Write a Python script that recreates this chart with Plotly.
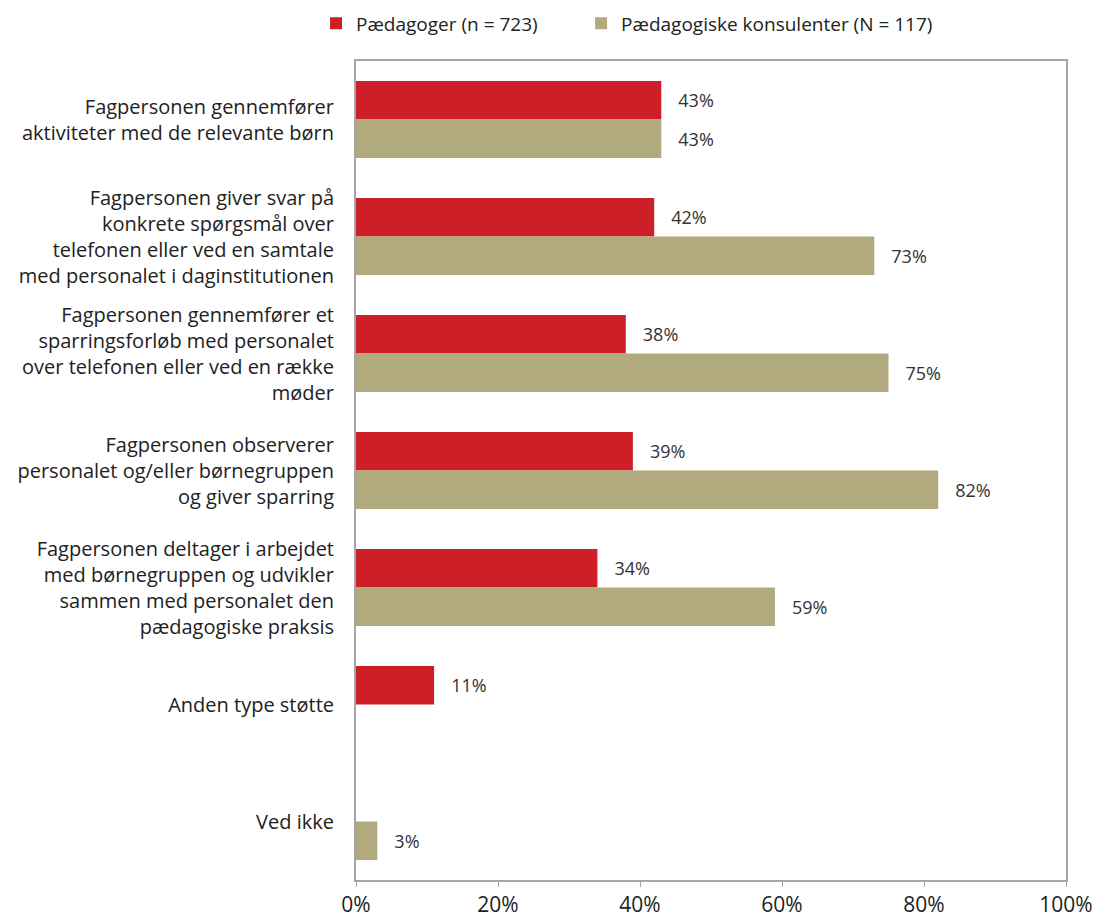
import plotly.graph_objects as go

categories = [
    "Fagpersonen gennemfører<br>aktiviteter med de relevante børn",
    "Fagpersonen giver svar på<br>konkrete spørgsmål over<br>telefonen eller ved en samtale<br>med personalet i daginstitutionen",
    "Fagpersonen gennemfører et<br>sparringsforløb med personalet<br>over telefonen eller ved en række<br>møder",
    "Fagpersonen observerer<br>personalet og/eller børnegruppen<br>og giver sparring",
    "Fagpersonen deltager i arbejdet<br>med børnegruppen og udvikler<br>sammen med personalet den<br>pædagogiske praksis",
    "Anden type støtte",
    "Ved ikke",
]
paedagoger = [43, 42, 38, 39, 34, 11, None]
konsulenter = [43, 73, 75, 82, 59, None, 3]
series_names = ["Pædagoger (n = 723)", "Pædagogiske konsulenter (N = 117)"]
x_ticks = [0, 20, 40, 60, 80, 100]
x_ticklabels = ["0%", "20%", "40%", "60%", "80%", "100%"]

RED = "#CD1F28"
TAN = "#B1AA7E"
FONT = "Open Sans"

def labels(vals):
    return [("   %d%%" % v) if v is not None else "" for v in vals]

fig = go.Figure()
for name, vals, col, lg in [(series_names[0], paedagoger, RED, "legend"),
                            (series_names[1], konsulenter, TAN, "legend2")]:
    fig.add_trace(go.Bar(
        y=categories, x=vals, name=name, orientation="h",
        marker=dict(color=col, line=dict(width=0)),
        text=labels(vals), textposition="outside", cliponaxis=False,
        textfont=dict(size=18, color="#333333", family=FONT),
        legend=lg,
    ))

legend_common = dict(orientation="h", xanchor="left", y=1.046, yanchor="middle",
                     font=dict(size=19, color="#222222", family=FONT),
                     itemwidth=30, borderwidth=0, bgcolor="rgba(0,0,0,0)")

# the page body adds an 8px offset, margins compensate for it
fig.update_layout(
    width=1113, height=918,
    margin=dict(l=348, r=55, t=53, b=46, autoexpand=False),
    paper_bgcolor="white", plot_bgcolor="white",
    barmode="group", bargap=0.34, bargroupgap=0,
    font=dict(family=FONT, color="#222222"),
    legend=dict(x=-0.0563, **legend_common),
    legend2=dict(x=0.317, **legend_common),
    showlegend=True,
)
fig.update_xaxes(range=[0, 100], tickvals=x_ticks, ticktext=x_ticklabels,
                 showgrid=False, zeroline=False, showline=True, linecolor="#A6A6A6",
                 linewidth=2, mirror=True, ticks="outside", ticklen=5, tickcolor="#A6A6A6",
                 automargin=False,
                 tickfont=dict(size=21, color="#222222", family=FONT))
fig.update_yaxes(autorange="reversed", showgrid=False, zeroline=False, showline=True,
                 linecolor="#A6A6A6", linewidth=2, mirror=True, ticks="",
                 ticklabelstandoff=16, automargin=False,
                 tickfont=dict(size=20, color="#222222", family=FONT))

fig.write_html("out.html")
